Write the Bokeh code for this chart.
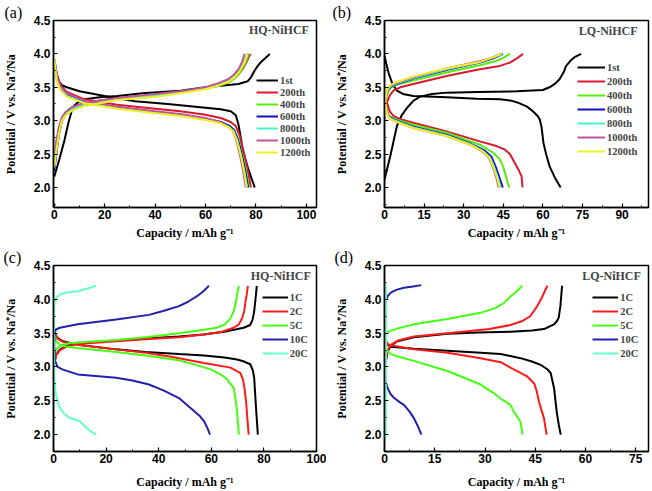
from bokeh.plotting import figure
from bokeh.models import (Range1d, SingleIntervalTicker, Label, Legend, LegendItem,
                          PrintfTickFormatter, Title)
from bokeh.layouts import gridplot
from bokeh.embed import file_html
from bokeh.resources import INLINE

# ---------------- Panel (a): HQ-NiHCF, cycling ----------------
a_labels = ["1st", "200th", "400th", "600th", "800th", "1000th", "1200th"]
a_chg_cap = [
    [0, 2, 4, 5.5, 7.3, 9.5, 12, 18, 25, 35, 50, 60, 68, 73, 76.7, 78, 79.3, 80.5, 82, 85.5],
    [0, 0.8, 1.8, 3, 4.5, 7, 12, 25, 40, 50, 60, 66, 70, 72.5, 74.5, 76.3, 77.8],
    [0, 0.8, 1.8, 3, 4.5, 7, 12, 25, 40, 50, 60, 66, 70, 72.3, 74.2, 75.9, 77.2],
    [0, 0.8, 1.8, 3, 4.5, 7, 12, 25, 40, 50, 60, 66, 69.8, 72, 74, 75.6, 76.9],
    [0, 0.8, 1.8, 3, 4.5, 7, 12, 25, 40, 50, 60, 65.5, 69.5, 71.8, 73.7, 75.3, 76.5],
    [0, 0.8, 1.8, 3, 4.5, 7, 12, 25, 40, 50, 60, 65, 69, 71.3, 73.2, 74.6, 75.5],
    [0, 0.8, 1.8, 3, 4.5, 7, 12, 25, 40, 50, 60, 65.5, 69.5, 71.8, 73.8, 75.5, 76.8],
]
a_chg_v = [
    [2.16, 2.42, 2.70, 2.95, 3.20, 3.28, 3.32, 3.35, 3.37, 3.41, 3.45, 3.50, 3.53, 3.55, 3.59, 3.65, 3.74, 3.81, 3.88, 4.0],
    [2.30, 2.55, 2.82, 3.02, 3.12, 3.20, 3.27, 3.34, 3.39, 3.43, 3.49, 3.54, 3.60, 3.67, 3.76, 3.88, 4.0],
    [2.28, 2.52, 2.80, 3.00, 3.10, 3.18, 3.25, 3.33, 3.38, 3.42, 3.48, 3.53, 3.59, 3.66, 3.75, 3.87, 4.0],
    [2.26, 2.50, 2.78, 2.99, 3.10, 3.18, 3.25, 3.33, 3.38, 3.42, 3.48, 3.54, 3.60, 3.67, 3.76, 3.88, 4.0],
    [2.30, 2.55, 2.82, 3.02, 3.11, 3.18, 3.25, 3.33, 3.38, 3.43, 3.49, 3.55, 3.61, 3.68, 3.77, 3.88, 4.0],
    [2.45, 2.70, 2.90, 3.05, 3.13, 3.20, 3.27, 3.34, 3.40, 3.44, 3.50, 3.56, 3.62, 3.69, 3.78, 3.89, 4.0],
    [2.32, 2.55, 2.80, 3.00, 3.08, 3.15, 3.22, 3.31, 3.36, 3.41, 3.47, 3.53, 3.59, 3.66, 3.75, 3.87, 4.0],
]
a_dis_cap = [
    [0, 1, 2, 3, 5, 10, 20, 32, 45, 58, 66, 70, 72, 73, 73.5, 74.8, 77, 79.5],
    [0, 1, 2.5, 5, 12, 25, 40, 50, 60, 66, 70, 72, 73.5, 75, 76.5, 78],
    [0, 1, 2.5, 5, 12, 25, 40, 50, 60, 66, 69.5, 71.5, 73, 74.5, 76, 77.2],
    [0, 1, 2.5, 5, 12, 25, 40, 50, 60, 66, 69.5, 71.3, 72.8, 74.3, 75.7, 76.9],
    [0, 1, 2.5, 5, 12, 25, 40, 50, 60, 66, 69.2, 71, 72.5, 74, 75.3, 76.5],
    [0, 1, 2.5, 5, 12, 25, 40, 50, 60, 65.5, 69, 70.8, 72.2, 73.6, 74.9, 76.0],
    [0, 1, 2.5, 5, 12, 25, 40, 50, 60, 66, 69.2, 71, 72.5, 74, 75.3, 76.3],
]
a_dis_v = [
    [3.92, 3.70, 3.58, 3.53, 3.50, 3.44, 3.37, 3.29, 3.25, 3.20, 3.17, 3.14, 3.08, 2.95, 2.85, 2.55, 2.27, 2.0],
    [3.90, 3.68, 3.53, 3.43, 3.32, 3.24, 3.18, 3.14, 3.09, 3.04, 2.98, 2.92, 2.78, 2.55, 2.30, 2.0],
    [3.90, 3.64, 3.49, 3.39, 3.29, 3.20, 3.13, 3.09, 3.03, 2.98, 2.92, 2.86, 2.72, 2.50, 2.26, 2.0],
    [3.90, 3.63, 3.48, 3.38, 3.28, 3.20, 3.13, 3.09, 3.03, 2.98, 2.92, 2.86, 2.72, 2.50, 2.26, 2.0],
    [3.91, 3.62, 3.47, 3.37, 3.27, 3.19, 3.12, 3.08, 3.02, 2.97, 2.91, 2.85, 2.71, 2.49, 2.25, 2.0],
    [3.90, 3.66, 3.51, 3.41, 3.30, 3.21, 3.14, 3.10, 3.04, 2.98, 2.91, 2.85, 2.71, 2.49, 2.25, 2.0],
    [3.92, 3.60, 3.45, 3.36, 3.26, 3.18, 3.11, 3.07, 3.01, 2.96, 2.90, 2.84, 2.70, 2.48, 2.24, 2.0],
]

# ---------------- Panel (b): LQ-NiHCF, cycling ----------------
b_labels = ["1st", "200th", "400th", "600th", "800th", "1000th", "1200th"]
b_chg_cap = [
    [0, 2.2, 4.7, 6.5, 8.5, 11, 13.5, 18, 23.5, 35, 50, 60, 62.5, 64.5, 66.3, 67.8, 68.8, 70.5, 72, 74.5],
    [0.3, 0.6, 1.0, 2.0, 3.4, 6, 10.9, 23.5, 36.1, 43.7, 47.5, 50, 52.5],
    [0, 0.3, 0.7, 1.5, 2.5, 4.7, 10.9, 23.5, 36.1, 42, 45, 47.5],
    [0, 0.3, 0.7, 1.5, 2.5, 4.7, 10.9, 23.5, 36.1, 41, 44.8],
    [0, 0.3, 0.7, 1.5, 2.5, 4.7, 10.9, 23.5, 36.1, 40.8, 44.5],
    [0, 0.3, 0.7, 1.5, 2.5, 4.7, 10.9, 23.5, 36.1, 40.5, 44.0],
    [0, 0.3, 0.7, 1.5, 2.5, 4.7, 10.9, 23.5, 36.1, 40.6, 44.3],
]
b_chg_v = [
    [2.12, 2.47, 2.92, 3.08, 3.19, 3.30, 3.36, 3.40, 3.42, 3.43, 3.44, 3.46, 3.50, 3.55, 3.62, 3.72, 3.82, 3.90, 3.95, 4.0],
    [3.12, 3.22, 3.28, 3.38, 3.45, 3.50, 3.55, 3.67, 3.77, 3.82, 3.87, 3.93, 4.0],
    [3.00, 3.22, 3.36, 3.45, 3.50, 3.54, 3.60, 3.72, 3.83, 3.89, 3.94, 4.0],
    [3.00, 3.25, 3.39, 3.47, 3.51, 3.55, 3.63, 3.76, 3.87, 3.93, 4.0],
    [3.02, 3.26, 3.40, 3.48, 3.52, 3.56, 3.64, 3.77, 3.88, 3.94, 4.0],
    [3.00, 3.27, 3.41, 3.49, 3.53, 3.57, 3.65, 3.78, 3.89, 3.94, 4.0],
    [3.05, 3.28, 3.42, 3.50, 3.54, 3.58, 3.66, 3.78, 3.88, 3.94, 4.0],
]
b_dis_cap = [
    [0, 0.7, 1.5, 3, 4.7, 7, 10.9, 23.5, 35, 43.7, 48, 51.2, 54, 56.2, 58, 58.8, 59.5, 60.2, 61.2, 62.5, 64.5, 66.7],
    [0.2, 0.5, 1.0, 2.0, 3.4, 6, 10.9, 23.5, 36.1, 42.4, 45.5, 47.5, 49.3, 50.7, 51.9, 52.3],
    [0, 0.3, 0.8, 1.8, 3.4, 10.9, 23.5, 36.1, 41.2, 43.5, 44.9, 46, 46.7, 47.4],
    [0, 0.3, 0.8, 1.8, 3.4, 10.9, 23.5, 33, 38, 40.5, 42, 43.5, 44.8],
    [0, 0.3, 0.8, 1.8, 3.4, 10.9, 23.5, 33, 37.5, 40, 41.5, 43, 44.0],
    [0, 0.3, 0.8, 1.8, 3.4, 10.9, 23.5, 32.5, 37, 39.5, 41, 42.4, 43.2],
    [0, 0.3, 0.8, 1.8, 3.4, 10.9, 23.5, 32.5, 37.2, 39.7, 41.2, 42.7, 43.5],
]
b_dis_v = [
    [3.97, 3.85, 3.72, 3.55, 3.45, 3.40, 3.37, 3.35, 3.33, 3.32, 3.30, 3.26, 3.21, 3.14, 3.07, 3.02, 2.90, 2.67, 2.50, 2.32, 2.15, 2.0],
    [3.50, 3.38, 3.26, 3.14, 3.07, 3.02, 2.97, 2.84, 2.69, 2.62, 2.57, 2.50, 2.37, 2.27, 2.17, 2.0],
    [3.55, 3.30, 3.15, 3.07, 3.03, 2.94, 2.82, 2.64, 2.52, 2.43, 2.32, 2.17, 2.06, 2.0],
    [3.55, 3.28, 3.14, 3.06, 3.02, 2.91, 2.79, 2.65, 2.55, 2.46, 2.32, 2.15, 2.0],
    [3.58, 3.27, 3.13, 3.05, 3.01, 2.90, 2.78, 2.64, 2.54, 2.45, 2.31, 2.14, 2.0],
    [3.60, 3.26, 3.12, 3.04, 3.00, 2.89, 2.77, 2.64, 2.54, 2.45, 2.31, 2.14, 2.0],
    [3.60, 3.26, 3.12, 3.04, 3.00, 2.89, 2.77, 2.64, 2.54, 2.45, 2.31, 2.14, 2.0],
]

# ---------------- Panel (c): HQ-NiHCF, rates ----------------
c_labels = ["1C", "2C", "5C", "10C", "20C"]
c_chg_cap = [
    [0.3, 1, 2.5, 5, 9.2, 23.8, 35, 47.7, 57, 65, 70, 72.3, 74.8, 75.7, 76.3, 76.8, 77.3],
    [0.3, 1, 2.5, 5, 9.2, 23.8, 35, 47.7, 57.2, 64, 68.5, 70.5, 71.7, 72.5, 73, 73.5, 73.9],
    [0.2, 0.6, 1.5, 3, 6, 12, 23.8, 35, 47.7, 57.2, 62, 64.8, 67, 68.5, 69.3, 69.8, 70.5],
    [0.5, 0.3, 0.3, 0.8, 2.4, 9.2, 23.8, 36.3, 42, 47.7, 51, 54.7, 57, 59.1],
    [0, 0.1, 0.2, 0.4, 1, 2.4, 5, 9.2, 13, 16.2],
]
c_chg_v = [
    [3.05, 3.18, 3.26, 3.31, 3.35, 3.39, 3.42, 3.45, 3.48, 3.52, 3.56, 3.58, 3.62, 3.70, 3.82, 4.0, 4.2],
    [3.05, 3.17, 3.25, 3.30, 3.34, 3.38, 3.41, 3.44, 3.48, 3.52, 3.58, 3.63, 3.72, 3.82, 3.97, 4.08, 4.2],
    [3.10, 3.22, 3.28, 3.32, 3.35, 3.37, 3.40, 3.44, 3.50, 3.55, 3.58, 3.62, 3.70, 3.82, 3.95, 4.07, 4.2],
    [3.05, 3.25, 3.45, 3.55, 3.58, 3.63, 3.70, 3.77, 3.83, 3.90, 3.96, 4.05, 4.12, 4.2],
    [2.75, 3.30, 3.75, 3.95, 4.02, 4.07, 4.10, 4.12, 4.16, 4.2],
]
c_dis_cap = [
    [0, 0.5, 1.5, 3.6, 9.2, 23.8, 35, 47.7, 57.2, 65, 69.8, 72.5, 74.8, 75.8, 76.3, 77.1, 77.7],
    [0, 0.5, 1.5, 3.6, 9.2, 23.8, 35, 44.7, 57.2, 67.3, 71.1, 72.0, 72.6, 73.2, 73.6, 74.2],
    [0, 0.3, 1, 2.5, 5, 9.2, 23.8, 35, 47.7, 55, 60, 64, 66.2, 68.5, 69.3, 69.8, 70.5],
    [0, 0.2, 0.5, 1.5, 3.6, 9.2, 23.8, 30, 36.3, 42, 47.7, 52.2, 55.5, 57.2, 58.5, 59.5],
    [0, 0.1, 0.2, 0.4, 0.8, 1.5, 2.4, 4, 6.1, 9.9, 12.5, 14.5, 16.2],
]
c_dis_v = [
    [3.58, 3.50, 3.43, 3.38, 3.33, 3.26, 3.22, 3.19, 3.17, 3.14, 3.11, 3.08, 3.04, 2.95, 2.84, 2.34, 2.0],
    [3.58, 3.50, 3.42, 3.37, 3.33, 3.26, 3.21, 3.15, 3.06, 2.99, 2.91, 2.82, 2.69, 2.50, 2.30, 2.0],
    [3.62, 3.48, 3.38, 3.33, 3.30, 3.28, 3.22, 3.17, 3.10, 3.02, 2.96, 2.88, 2.81, 2.69, 2.50, 2.34, 2.0],
    [3.55, 3.30, 3.10, 3.00, 2.96, 2.89, 2.84, 2.80, 2.74, 2.65, 2.54, 2.39, 2.28, 2.20, 2.10, 2.0],
    [4.12, 3.70, 3.20, 2.80, 2.62, 2.50, 2.40, 2.31, 2.25, 2.20, 2.10, 2.04, 2.0],
]

# ---------------- Panel (d): LQ-NiHCF, rates ----------------
d_labels = ["1C", "2C", "5C", "10C", "20C"]
d_chg_cap = [
    [0.3, 0.9, 2, 3.9, 8.8, 18.8, 28, 37.6, 44, 47.6, 50.6, 51.5, 52, 52.5, 53.0],
    [0.3, 0.9, 2, 4, 8.8, 18.8, 31.3, 37.6, 41.2, 43.5, 45.6, 47, 48.6],
    [0, 0.2, 0.5, 1.5, 4, 8.8, 18.8, 28.7, 33, 35.5, 37.6, 39.5, 41.1],
    [0, 0.1, 0.2, 0.4, 1, 1.9, 3.5, 5.8, 8.5, 11],
    [0.3, 0.35, 0.4],
]
d_chg_v = [
    [3.05, 3.23, 3.32, 3.38, 3.44, 3.49, 3.51, 3.52, 3.54, 3.56, 3.63, 3.68, 3.73, 3.90, 4.20],
    [3.10, 3.25, 3.33, 3.39, 3.45, 3.50, 3.56, 3.62, 3.68, 3.75, 3.90, 4.03, 4.2],
    [3.38, 3.46, 3.50, 3.53, 3.57, 3.63, 3.71, 3.80, 3.87, 3.94, 4.04, 4.12, 4.2],
    [3.12, 3.50, 3.85, 3.98, 4.05, 4.10, 4.14, 4.17, 4.19, 4.21],
    [1.95, 3.10, 4.22],
]
d_dis_cap = [
    [0, 0.3, 0.9, 1.9, 8.8, 18.8, 28.7, 34.7, 40.6, 44, 46.6, 48.5, 49.6, 50.6, 51.4, 52.0, 52.6],
    [0, 0.3, 0.9, 1.9, 8.8, 18.8, 28.7, 34.7, 37.6, 42.6, 44.6, 45.4, 46.1, 47.6, 48.4],
    [0, 0.2, 0.6, 1.9, 5, 8.8, 18.8, 28.7, 32.7, 35, 37.6, 38.6, 40.6, 41.2],
    [0, 0.1, 0.3, 0.9, 1.8, 2.9, 4.5, 5.8, 7.5, 8.8, 10, 11],
    [0.4, 0.35, 0.3],
]
d_dis_v = [
    [3.50, 3.40, 3.33, 3.30, 3.27, 3.24, 3.21, 3.19, 3.13, 3.08, 3.03, 2.97, 2.91, 2.69, 2.34, 2.15, 2.0],
    [3.48, 3.40, 3.34, 3.32, 3.26, 3.21, 3.13, 3.07, 2.99, 2.86, 2.76, 2.65, 2.49, 2.24, 2.0],
    [3.62, 3.40, 3.25, 3.19, 3.14, 3.09, 2.94, 2.74, 2.61, 2.52, 2.44, 2.34, 2.19, 2.0],
    [3.15, 2.95, 2.80, 2.69, 2.60, 2.54, 2.48, 2.44, 2.34, 2.24, 2.12, 2.0],
    [4.22, 3.05, 1.95],
]

cycle_colors = ["#000000", "#d81a30", "#55ee11", "#1010c0", "#44f5d0", "#c0559a", "#f0f020"]
rate_colors = ["#000000", "#ff1a1a", "#44ff11", "#2020aa", "#66ffcc"]

X_LABEL = "Capacity / mAh g\u207b\u00b9"
Y_LABEL = "Potential / V vs. Na\u207a/Na"


def make_panel(w, h, borders, xr, yr, x_int, labels, colors,
               chg_cap, chg_v, dis_cap, dis_v,
               letter, letter_offset, name, name_xy, leg_loc, glyph_w, item_h, item_gap,
               xlab_standoff):
    left, right, top, bottom = borders
    p = figure(width=w, height=h, x_range=Range1d(*xr), y_range=Range1d(*yr),
               output_backend="svg", toolbar_location=None,
               min_border_left=left, min_border_right=right,
               min_border_top=top, min_border_bottom=bottom)
    p.title = Title(text=letter, align="left", offset=letter_offset, standoff=0,
                    text_font="Liberation Serif", text_font_style="normal",
                    text_font_size="16px", text_color="black")
    p.grid.visible = False
    p.outline_line_color = "black"
    p.outline_line_width = 1.5
    p.background_fill_color = "white"
    p.border_fill_color = "white"

    p.xaxis.ticker = SingleIntervalTicker(interval=x_int, num_minor_ticks=2)
    p.yaxis.ticker = SingleIntervalTicker(interval=0.5, num_minor_ticks=2)
    p.yaxis.formatter = PrintfTickFormatter(format="%.1f")
    p.xaxis.axis_label = X_LABEL
    p.yaxis.axis_label = Y_LABEL
    for ax in (p.xaxis[0], p.yaxis[0]):
        ax.major_tick_in = 4
        ax.major_tick_out = 0
        ax.minor_tick_in = 2
        ax.minor_tick_out = 0
        ax.major_tick_line_width = 1.2
        ax.minor_tick_line_width = 1
        ax.axis_line_width = 1.5
        ax.major_label_text_font = "Liberation Sans"
        ax.major_label_text_font_style = "bold"
        ax.major_label_text_font_size = "12px"
        ax.major_label_text_color = "black"
        ax.axis_label_text_font = "Liberation Serif"
        ax.axis_label_text_font_style = "bold"
        ax.axis_label_text_font_size = "12px"
        ax.axis_label_text_color = "black"
    p.xaxis.major_label_standoff = 2
    p.yaxis.major_label_standoff = 3
    p.xaxis.axis_label_standoff = xlab_standoff
    p.yaxis.axis_label_standoff = 13

    items = []
    for i, lab in enumerate(labels):
        r_ch = p.line(chg_cap[i], chg_v[i], line_color=colors[i], line_width=2)
        p.line(dis_cap[i], dis_v[i], line_color=colors[i], line_width=2)
        items.append(LegendItem(label=lab, renderers=[r_ch]))

    leg = Legend(items=items, location=leg_loc, orientation="vertical",
                 border_line_color=None, background_fill_alpha=0,
                 padding=0, margin=0, spacing=item_gap, label_standoff=2,
                 glyph_width=glyph_w, glyph_height=item_h, label_height=item_h,
                 label_text_font="Liberation Serif", label_text_font_style="bold",
                 label_text_font_size="10.5px")
    p.add_layout(leg)

    p.add_layout(Label(x=name_xy[0], y=name_xy[1], text=name,
                       text_font="Liberation Serif", text_font_style="bold",
                       text_font_size="12px", text_baseline="middle", text_align="left"))
    return p


pa = make_panel(326, 245, (51, 10, 20, 38), (-0.3, 104), (1.7, 4.5), 20, a_labels, cycle_colors,
                a_chg_cap, a_chg_v, a_dis_cap, a_dis_v,
                "(a)", -49, "HQ-NiHCF", (77.2, 4.36), (203, 49), 22, 12, 0, 4)
pb = make_panel(326, 245, (58, 3, 20, 38), (0, 100), (1.7, 4.5), 15, b_labels, cycle_colors,
                b_chg_cap, b_chg_v, b_dis_cap, b_dis_v,
                "(b)", -52, "LQ-NiHCF", (73.6, 4.34), (193, 50), 28, 12, 2, 4)
pc = make_panel(326, 246, (52, 9, 20, 40), (0, 100), (1.75, 4.5), 20, c_labels, rate_colors,
                c_chg_cap, c_chg_v, c_dis_cap, c_dis_v,
                "(c)", -50, "HQ-NiHCF", (75.0, 4.34), (208.7, 91), 26, 14, 0, 9)
pd = make_panel(326, 246, (58, 4, 20, 40), (0, 78.8), (1.75, 4.5), 15, d_labels, rate_colors,
                d_chg_cap, d_chg_v, d_dis_cap, d_dis_v,
                "(d)", -50, "LQ-NiHCF", (59.0, 4.34), (208.3, 91), 26, 14, 0, 9)

grid = gridplot([[pa, pb], [pc, pd]], toolbar_location=None)

open("out.html", "w").write(file_html(grid, INLINE))
